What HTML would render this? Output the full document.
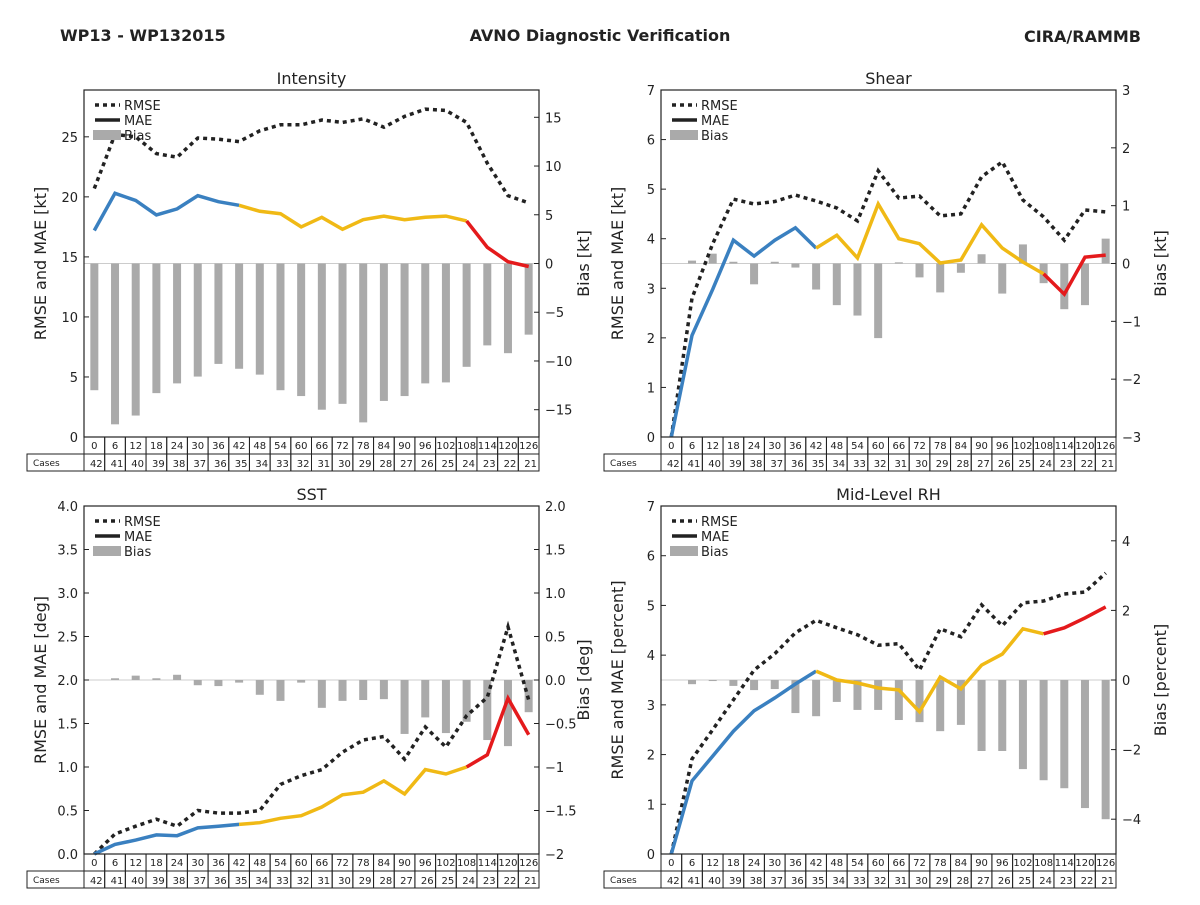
<!DOCTYPE html>
<html><head><meta charset="utf-8">
<style>
body{margin:0;background:#fff;font-family:"Liberation Sans",sans-serif;}
svg text{font-family:"DejaVu Sans","Liberation Sans",sans-serif;fill:#222;}
</style></head>
<body>
<svg id="chart" width="1200" height="900" viewBox="0 0 1200 900" xmlns="http://www.w3.org/2000/svg">
<text x="60" y="41" font-size="16" font-weight="bold">WP13 - WP132015</text>
<text x="600" y="41" font-size="16" font-weight="bold" text-anchor="middle">AVNO Diagnostic Verification</text>
<text x="1141" y="42" font-size="16" font-weight="bold" text-anchor="end">CIRA/RAMMB</text>
</svg>
<script>
const hours=[0,6,12,18,24,30,36,42,48,54,60,66,72,78,84,90,96,102,108,114,120,126];
const cases=[42,41,40,39,38,37,36,35,34,33,32,31,30,29,28,27,26,25,24,23,22,21];

const intRmse=[20.7,25.2,25,23.6,23.3,24.9,24.8,24.6,25.5,26,26,26.4,26.2,26.5,25.8,26.7,27.3,27.2,26.2,22.8,20.1,19.5];
const intMae=[17.2,20.3,19.7,18.5,19,20.1,19.6,19.3,18.8,18.6,17.5,18.3,17.3,18.1,18.4,18.1,18.3,18.4,18,15.8,14.6,14.2];
const intBias=[-13,-16.5,-15.6,-13.3,-12.3,-11.6,-10.3,-10.8,-11.4,-13,-13.6,-15,-14.4,-16.3,-14.1,-13.6,-12.3,-12.2,-10.6,-8.4,-9.2,-7.3];

const shRmse=[0,2.8,3.9,4.8,4.7,4.75,4.88,4.76,4.62,4.36,5.37,4.82,4.86,4.46,4.5,5.25,5.55,4.78,4.44,3.97,4.58,4.54];
const shMae=[0,2.05,2.98,3.97,3.65,3.97,4.22,3.81,4.07,3.61,4.7,4.0,3.9,3.51,3.57,4.28,3.81,3.53,3.29,2.88,3.63,3.67];
const shBias=[0,0.05,0.17,0.03,-0.36,0.03,-0.07,-0.45,-0.72,-0.9,-1.29,0.02,-0.24,-0.5,-0.16,0.16,-0.52,0.33,-0.34,-0.79,-0.72,0.43];

const sstRmse=[0,0.23,0.32,0.4,0.32,0.5,0.47,0.47,0.5,0.8,0.9,0.97,1.17,1.31,1.35,1.09,1.46,1.23,1.59,1.8,2.61,1.77];
const sstMae=[0,0.11,0.16,0.22,0.21,0.3,0.32,0.34,0.36,0.41,0.44,0.54,0.68,0.71,0.84,0.69,0.97,0.92,1.0,1.14,1.79,1.37];
const sstBias=[0,0.02,0.05,0.02,0.06,-0.06,-0.07,-0.03,-0.17,-0.24,-0.03,-0.32,-0.24,-0.23,-0.22,-0.62,-0.43,-0.61,-0.48,-0.69,-0.76,-0.37];

const rhRmse=[0,1.91,2.5,3.1,3.7,4.03,4.45,4.7,4.55,4.41,4.2,4.23,3.7,4.53,4.37,5.01,4.59,5.05,5.09,5.23,5.27,5.65];
const rhMae=[0,1.47,1.97,2.47,2.88,3.14,3.42,3.68,3.5,3.44,3.34,3.3,2.86,3.56,3.32,3.8,4.02,4.53,4.43,4.55,4.75,4.97];
const rhBias=[0,-0.12,-0.03,-0.17,-0.29,-0.26,-0.95,-1.04,-0.63,-0.86,-0.86,-1.15,-1.21,-1.47,-1.29,-2.04,-2.04,-2.56,-2.88,-3.11,-3.68,-4.0];

const intLeftTicks=[0,5,10,15,20,25];
const intRightTicks=[15,10,5,0,-5,-10,-15];
const shLeftTicks=[0,1,2,3,4,5,6,7];
const shRightTicks=[3,2,1,0,-1,-2,-3];
const sstLeftTicks=[0,0.5,1,1.5,2,2.5,3,3.5,4];
const sstRightTicks=[2,1.5,1,0.5,0,-0.5,-1,-1.5,-2];
const rhLeftTicks=[0,1,2,3,4,5,6,7];
const rhRightTicks=[4,2,0,-2,-4];

const NS="http://www.w3.org/2000/svg";
const svg=document.getElementById('chart');
function mk(tag,attrs,parent,text){
  const e=document.createElementNS(NS,tag);
  for(const k in attrs)e.setAttribute(k,attrs[k]);
  if(text!==undefined)e.textContent=text;
  (parent||svg).appendChild(e);return e;
}
function fmtNeg(v){return v<0?'\u2212'+Math.abs(v):String(v);}

function panel(cfg){
  const g=mk('g',{});
  
  
  const {x0,x1,y0,y1}=cfg;
  const cw=(x1-x0)/hours.length;
  const xs=i=>x0+cw*(i+0.5);
  const yL=v=>y1-(v-cfg.lmin)/(cfg.lmax-cfg.lmin)*(y1-y0);
  const yR=v=>y1-(v-cfg.rmin)/(cfg.rmax-cfg.rmin)*(y1-y0);
  // title
  const t=mk('text',{x:(x0+x1)/2,y:y0-6,'font-size':16,'text-anchor':'middle'},g,cfg.title);
  
  
  // zero line
  const zl=mk('line',{x1:x0,x2:x1,y1:yR(0),y2:yR(0),stroke:'#ccc','stroke-width':1},g);
  
  
  // bars
  cfg.bias.forEach((v,i)=>{
    const a=yR(0),b=yR(v);
    const r=mk('rect',{x:xs(i)-4,y:Math.min(a,b),width:8,height:Math.abs(b-a),fill:'#aaaaaa'},g);
    
    
  });
  // rmse
  const rp=cfg.rmse.map((v,i)=>xs(i).toFixed(1)+','+yL(v).toFixed(1)).join(' ');
  const rl=mk('polyline',{points:rp,fill:'none',stroke:'#222','stroke-width':3.5,'stroke-dasharray':'4,4'},g);
  
  
  // mae segments
  const segs=[[0,7,'#3a80c0','blue'],[7,18,'#f0b915','yellow'],[18,21,'#e41a1c','red']];
  segs.forEach(s=>{
    const pts=[];for(let i=s[0];i<=s[1];i++)pts.push(xs(i).toFixed(1)+','+yL(cfg.mae[i]).toFixed(1));
    const l=mk('polyline',{points:pts.join(' '),fill:'none',stroke:s[2],'stroke-width':3.5},g);
    
    
  });
  // frame
  const fr=mk('rect',{x:x0,y:y0,width:x1-x0,height:y1-y0,fill:'none',stroke:'#222','stroke-width':1.2},g);
  
  
  // left ticks
  cfg.lticks.forEach(v=>{
    const y=yL(v);
    mk('line',{x1:x0,x2:x0+5,y1:y,y2:y,stroke:'#222'},g);
    const tt=mk('text',{x:x0-6,y:y+5,'font-size':13,'text-anchor':'end'},g,cfg.lfmt(v));
    
    
  });
  cfg.rticks.forEach(v=>{
    const y=yR(v);
    mk('line',{x1:x1-5,x2:x1,y1:y,y2:y,stroke:'#222'},g);
    const tt=mk('text',{x:x1+6,y:y+5,'font-size':13},g,cfg.rfmt(v));
    
    
  });
  const ly=(y0+y1)/2;
  const la=mk('text',{x:x0-38,y:ly,'font-size':16,'text-anchor':'middle',transform:`rotate(-90 ${x0-38} ${ly})`},g,cfg.lLabel);
  
  
  const ra=mk('text',{x:x1+50,y:ly,'font-size':16,'text-anchor':'middle',transform:`rotate(-90 ${x1+50} ${ly})`},g,cfg.rLabel);
  
  
  // legend
  const lg=mk('g',{},g);
  
  
  mk('line',{x1:x0+11,x2:x0+36,y1:y0+15,y2:y0+15,stroke:'#222','stroke-width':3.5,'stroke-dasharray':'4,4'},lg);
  mk('text',{x:x0+40,y:y0+20,'font-size':13},lg,'RMSE');
  mk('line',{x1:x0+11,x2:x0+36,y1:y0+30,y2:y0+30,stroke:'#222','stroke-width':3.5},lg);
  mk('text',{x:x0+40,y:y0+35,'font-size':13},lg,'MAE');
  mk('rect',{x:x0+9,y:y0+40,width:28,height:10,fill:'#aaaaaa'},lg);
  mk('text',{x:x0+40,y:y0+50,'font-size':13},lg,'Bias');
  // table
  const tb=mk('g',{},g);
  
  
  const r1=y1,r2=y1+17,r3=y1+34;
  mk('rect',{x:x0-57,y:r2,width:57,height:17,fill:'none',stroke:'#222'},tb);
  mk('text',{x:x0-51,y:r2+12,'font-size':9},tb,'Cases');
  hours.forEach((h,i)=>{
    const cx=x0+cw*i;
    mk('rect',{x:cx,y:r1,width:cw,height:17,fill:'none',stroke:'#222'},tb);
    mk('rect',{x:cx,y:r2,width:cw,height:17,fill:'none',stroke:'#222'},tb);
    mk('text',{x:cx+cw/2,y:r1+12,'font-size':10,'text-anchor':'middle'},tb,String(h));
    mk('text',{x:cx+cw-2,y:r2+13,'font-size':10,'text-anchor':'end'},tb,String(cases[i]));
  });
}
const intF=v=>String(v), negF=v=>fmtNeg(v), oneF=v=>fmtNeg(v.toFixed(1));
panel({key:'intensity',title:'Intensity',x0:84,x1:539,y0:90,y1:437,lmin:0,lmax:28.9,rmin:-17.8,rmax:17.8,
  rmse:intRmse,mae:intMae,bias:intBias,lticks:intLeftTicks,rticks:intRightTicks,lfmt:intF,rfmt:negF,
  lLabel:'RMSE and MAE [kt]',rLabel:'Bias [kt]'});
panel({key:'shear',title:'Shear',x0:661,x1:1116,y0:90,y1:437,lmin:0,lmax:7,rmin:-3,rmax:3,
  rmse:shRmse,mae:shMae,bias:shBias,lticks:shLeftTicks,rticks:shRightTicks,lfmt:intF,rfmt:negF,
  lLabel:'RMSE and MAE [kt]',rLabel:'Bias [kt]'});
panel({key:'sst',title:'SST',x0:84,x1:539,y0:506,y1:854,lmin:0,lmax:4,rmin:-2,rmax:2,
  rmse:sstRmse,mae:sstMae,bias:sstBias,lticks:sstLeftTicks,rticks:sstRightTicks,lfmt:oneF,rfmt:oneF,
  lLabel:'RMSE and MAE [deg]',rLabel:'Bias [deg]'});
panel({key:'midlevel-rh',title:'Mid-Level RH',x0:661,x1:1116,y0:506,y1:854,lmin:0,lmax:7,rmin:-5,rmax:5,
  rmse:rhRmse,mae:rhMae,bias:rhBias,lticks:rhLeftTicks,rticks:rhRightTicks,lfmt:intF,rfmt:negF,
  lLabel:'RMSE and MAE [percent]',rLabel:'Bias [percent]'});
</script>
</body></html>
